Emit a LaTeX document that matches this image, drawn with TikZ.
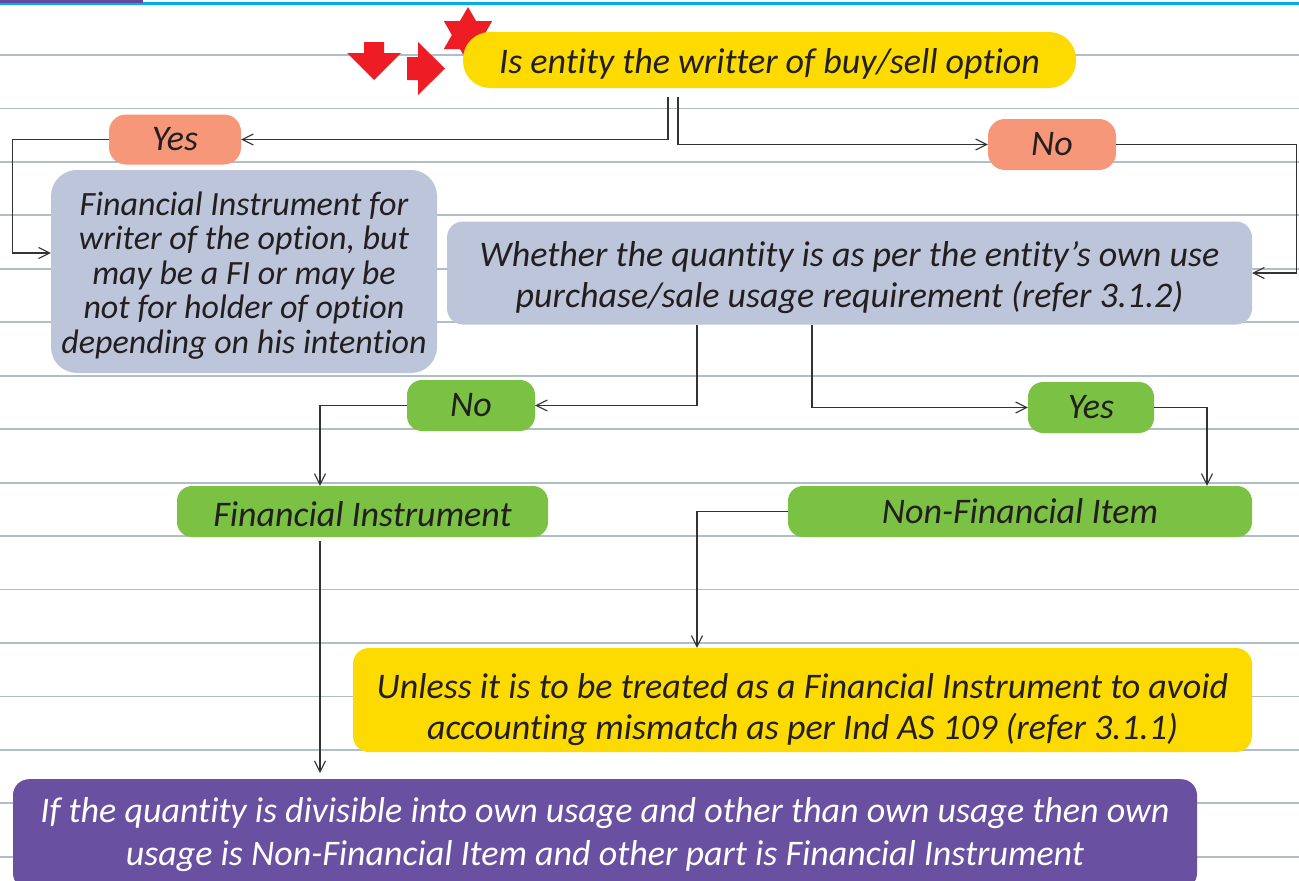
\documentclass[tikz,border=0pt]{standalone}
\usepackage{fontspec}
\setmainfont[Ligatures=NoCommon]{Carlito}
\usetikzlibrary{arrows.meta}
\definecolor{ink}{HTML}{231F20}
\definecolor{wire}{HTML}{333333}
\definecolor{ruling}{HTML}{AFBEC7}
\definecolor{topblue}{HTML}{00AEEF}
\definecolor{tabpurple}{HTML}{5E4A9E}
\definecolor{sun}{HTML}{FEDB00}
\definecolor{salmon}{HTML}{F6977A}
\definecolor{slate}{HTML}{BCC5DA}
\definecolor{leaf}{HTML}{7BC143}
\definecolor{plum}{HTML}{6950A1}
\definecolor{alert}{HTML}{EE1C25}
\begin{document}
\begin{tikzpicture}[x=1pt,y=-1pt,
  base/.style={inner sep=0pt, align=center, text=ink,
    font=\fontsize{36}{41}\selectfont\itshape},
  small/.style={font=\fontsize{34}{34.5}\selectfont\itshape},
  % box text set slightly below the box centre
  say/.style 2 args={label={[base,yshift=-#1]center:{#2}}},
  saysmall/.style 2 args={label={[base,small,yshift=-#1]center:{#2}}},
  question/.style={base, fill=sun, rounded corners=27pt},
  answer/.style={base, fill=salmon, rounded corners=17pt},
  note/.style={base, fill=slate, rounded corners=#1},
  note/.default=16pt,
  verdict/.style={base, fill=leaf, rounded corners=15pt},
  caveat/.style={base, fill=sun, rounded corners=16pt},
  summary/.style={base, fill=plum, text=white, rounded corners=16pt,
    font=\fontsize{36}{43}\selectfont\itshape},
  arr/.style={draw=wire, line width=1.3pt,
    -{Straight Barb[length=11pt,width=11pt,line width=1.1pt]}},
  rule/.style={draw=ruling, line width=1.8pt},
  badge/.style={fill=alert}]

\useasboundingbox (0,0) rectangle (1299,881);

% notebook ruling
\foreach \k in {0,...,15}
  \draw[rule] (0,{55+53.45*\k}) -- (1299,{55+53.45*\k});
\draw[topblue, line width=2.6pt] (0,3.3) -- (1299,3.3);
\fill[tabpurple] (0,0) rectangle (143,3);

% red markers
\fill[badge] (364,42) -- (384,42) -- (384,53) -- (401,53) -- (374,80)
  -- (347,53) -- (364,53) -- cycle;
\fill[badge] (407,57) -- (418,57) -- (418,42) -- (445,68.5) -- (418,95)
  -- (418,80) -- (407,80) -- cycle;
\fill[badge] (468,7) -- (492.2,49) -- (443.8,49) -- cycle;
\fill[badge] (468,63) -- (443.8,21) -- (492.2,21) -- cycle;

% nodes
\node[question, minimum width=613pt, minimum height=56pt,
  say={4pt}{Is entity the writter of buy/sell option}] (q) at (769.5,60) {};
\node[answer, minimum width=132pt, minimum height=50pt] (yes1) at (175,139.5) {Yes};
\node[answer, minimum width=128pt, minimum height=51pt] (no1) at (1052,144.5) {No};
\node[note=26pt, minimum width=386pt, minimum height=203pt,
  saysmall={4pt}{Financial Instrument for\\writer of the option, but\\may be a FI or may be\\not for holder of option\\depending on his intention}]
  (fi1) at (244,271.5) {};
\node[note, minimum width=805pt, minimum height=103pt,
  say={5pt}{Whether the quantity is as per the entity’s own use\\purchase/sale usage requirement (refer 3.1.2)}]
  (use) at (849.5,273) {};
\node[verdict, minimum width=128pt, minimum height=51pt] (no2) at (471,405.5) {No};
\node[verdict, minimum width=126pt, minimum height=51pt] (yes2) at (1091,407.5) {Yes};
\node[verdict, minimum width=371pt, minimum height=51pt,
  say={3pt}{Financial Instrument}] (fi) at (362.5,511.5) {};
\node[verdict, minimum width=464pt, minimum height=51pt] (nfi) at (1020,511.5)
  {Non-Financial Item};
\node[caveat, minimum width=899pt, minimum height=104pt,
  say={10pt}{Unless it is to be treated as a Financial Instrument to avoid\\accounting mismatch as per Ind AS 109 (refer 3.1.1)}]
  (unless) at (802.5,700) {};
\node[summary, minimum width=1184pt, minimum height=110pt, anchor=north] (split) at (605,779)
  {If the quantity is divisible into own usage and other than own usage then own\\usage is Non-Financial Item and other part is Financial Instrument};

% connectors
\draw[arr, shorten <=9pt] ([xshift=-101.5pt]q.south) |- (yes1.east);
\draw[arr, shorten <=9pt] ([xshift=-91.5pt]q.south) |- (no1.west);
\draw[arr] (yes1.west) -| ([xshift=-38pt,yshift=18.5pt]fi1.west) -- ([yshift=18.5pt]fi1.west);
\draw[arr] (no1.east) -| ([xshift=44pt]use.east) -- (use.east);
\draw[arr] ([xshift=-152.5pt]use.south) |- (no2.east);
\draw[arr] ([xshift=-37.5pt]use.south) |- (yes2.west);
\draw[arr] (no2.west) -| ([xshift=-42.5pt]fi.north);
\draw[arr] (yes2.east) -| ([xshift=187pt]nfi.north);
\draw[arr, shorten <=4pt, shorten >=6pt] ([xshift=-42.5pt]fi.south) -- ([xshift=-42.5pt]fi.south |- split.north);
\draw[arr] (nfi.west) -| ([xshift=-105.5pt]unless.north);
\end{tikzpicture}
\end{document}
